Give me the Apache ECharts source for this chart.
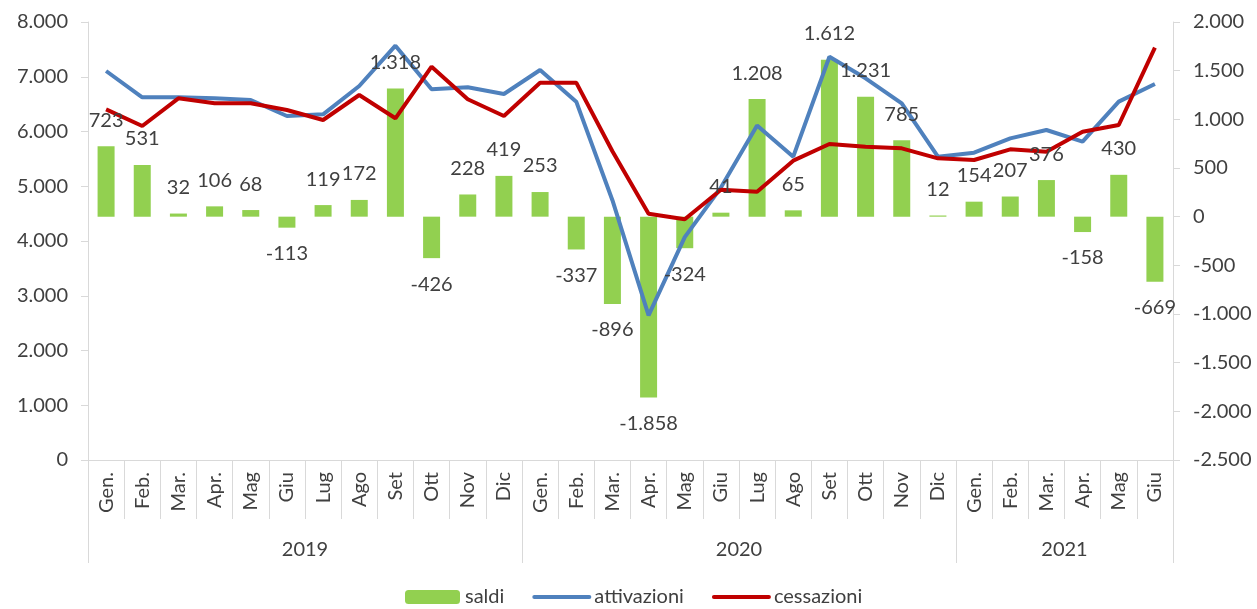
<!DOCTYPE html>
<html>
<head>
<meta charset="utf-8">
<title>saldi attivazioni cessazioni</title>
<script src="https://cdn.jsdelivr.net/npm/echarts@6/dist/echarts.min.js"></script>
<style>
  html, body { margin: 0; padding: 0; background: #fff; }
  #chart { width: 1257px; height: 609px; }
</style>
</head>
<body>
<div id="chart"></div>
<script>
// mesi (30), anni e numero di mesi per anno
var mesi = ['Gen.','Feb.','Mar.','Apr.','Mag','Giu','Lug','Ago','Set','Ott','Nov','Dic',
            'Gen.','Feb.','Mar.','Apr.','Mag','Giu','Lug','Ago','Set','Ott','Nov','Dic',
            'Gen.','Feb.','Mar.','Apr.','Mag','Giu'];
var anni = ['2019', '2020', '2021'];
var mesiPerAnno = [12, 12, 6];

// valori
var saldi = [723, 531, 32, 106, 68, -113, 119, 172, 1318, -426, 228, 419,
             253, -337, -896, -1858, -324, 41, 1208, 65, 1612, 1231, 785, 12,
             154, 207, 376, -158, 430, -669];
var attivazioni = [7105, 6624, 6624, 6606, 6575, 6283, 6314, 6831, 7567, 6770, 6807, 6685,
                   7123, 6545, 4745, 2640, 4070, 4976, 6108, 5540, 7366, 6971, 6515, 5540,
                   5613, 5875, 6027, 5814, 6545, 6868];
var cessazioni = [6405, 6100, 6606, 6515, 6515, 6393, 6210, 6667, 6241, 7184, 6588, 6283,
                  6892, 6892, 5640, 4498, 4396, 4935, 4900, 5467, 5772, 5723, 5693, 5510,
                  5479, 5675, 5631, 5997, 6119, 7531];

// tick asse sinistro e destro
var tickSx = { min: 0, max: 8000, step: 1000 };
var tickDx = { min: -2500, max: 2000, step: 500 };

var FONT = 'Lato';
var GRIGIO = '#D9D9D9';
var TESTO = '#404040';

// formato italiano 1.234
function fmt(v) {
  var s = String(Math.abs(v)).replace(/\B(?=(\d{3})+(?!\d))/g, '.');
  return (v < 0 ? '-' : '') + s;
}

// confini e centri degli anni
var confini = [0], centri = [];
mesiPerAnno.forEach(function (n, i) {
  centri.push(confini[i] + n / 2);
  confini.push(confini[i] + n);
});

// etichette sopra/sotto le barre
var datiSaldi = saldi.map(function (v) {
  return { value: v, label: { position: v < 0 ? 'bottom' : 'top' } };
});

var chart = echarts.init(document.getElementById('chart'));

var option = {
  animation: false,
  textStyle: { fontFamily: FONT },
  grid: { left: 88, right: 84, top: 22, bottom: 149 },
  legend: {
    left: 400,
    bottom: -3,
    itemWidth: 55,
    itemHeight: 14,
    itemGap: 28,
    textStyle: { fontFamily: FONT, fontSize: 20, color: TESTO },
    lineStyle: { width: 4, cap: 'round' },
    data: [
      { name: 'saldi' },
      { name: 'attivazioni', itemStyle: { opacity: 0 } },
      { name: 'cessazioni', itemStyle: { opacity: 0 } }
    ]
  },
  xAxis: [
    {
      // mesi
      type: 'category',
      data: mesi,
      position: 'bottom',
      axisLine: { onZero: false, lineStyle: { color: GRIGIO, width: 1 } },
      axisTick: { show: true, length: 59, lineStyle: { color: GRIGIO } },
      axisLabel: { rotate: 90, margin: 12, fontSize: 20, color: TESTO, fontFamily: FONT, interval: 0 },
      splitLine: { show: false }
    },
    {
      // anni
      type: 'value',
      min: 0,
      max: mesi.length,
      position: 'bottom',
      offset: 0,
      axisLine: { show: false, onZero: false },
      axisTick: { show: true, length: 103, customValues: confini, lineStyle: { color: GRIGIO } },
      axisLabel: {
        customValues: centri,
        margin: 80,
        fontSize: 20,
        color: TESTO,
        fontFamily: FONT,
        formatter: function (v) {
          var i = centri.indexOf(v);
          return i >= 0 ? anni[i] : '';
        }
      },
      splitLine: { show: false }
    }
  ],
  yAxis: [
    {
      type: 'value',
      position: 'left',
      min: tickSx.min,
      max: tickSx.max,
      interval: tickSx.step,
      axisLine: { show: true, lineStyle: { color: GRIGIO } },
      axisTick: { show: true, length: 7, lineStyle: { color: GRIGIO } },
      axisLabel: { margin: 20, fontSize: 20, color: TESTO, fontFamily: FONT, formatter: fmt },
      splitLine: { show: false }
    },
    {
      type: 'value',
      position: 'right',
      min: tickDx.min,
      max: tickDx.max,
      interval: tickDx.step,
      axisLine: { show: true, lineStyle: { color: GRIGIO } },
      axisTick: { show: true, length: 7, lineStyle: { color: GRIGIO } },
      axisLabel: { margin: 20, fontSize: 20, color: TESTO, fontFamily: FONT, formatter: fmt },
      splitLine: { show: false }
    }
  ],
  series: [
    {
      name: 'saldi',
      type: 'bar',
      yAxisIndex: 1,
      barWidth: '47%',
      itemStyle: { color: '#92D050' },
      data: saldi
    },
    {
      name: 'attivazioni',
      type: 'line',
      yAxisIndex: 0,
      symbol: 'none',
      lineStyle: { color: '#4F81BD', width: 4 },
      itemStyle: { color: '#4F81BD' },
      data: attivazioni
    },
    {
      name: 'cessazioni',
      type: 'line',
      yAxisIndex: 0,
      symbol: 'none',
      lineStyle: { color: '#C00000', width: 4 },
      itemStyle: { color: '#C00000' },
      data: cessazioni
    },
    {
      // solo etichette dei saldi, sopra le linee
      name: 'etichette',
      type: 'bar',
      yAxisIndex: 1,
      barWidth: '47%',
      barGap: '-100%',
      z: 10,
      silent: true,
      itemStyle: { color: 'rgba(0,0,0,0)' },
      data: datiSaldi,
      label: {
        show: true,
        distance: 16,
        fontSize: 20,
        fontFamily: FONT,
        color: TESTO,
        formatter: function (p) { return fmt(p.value); }
      }
    }
  ]
};

chart.setOption(option);
</script>
</body>
</html>
